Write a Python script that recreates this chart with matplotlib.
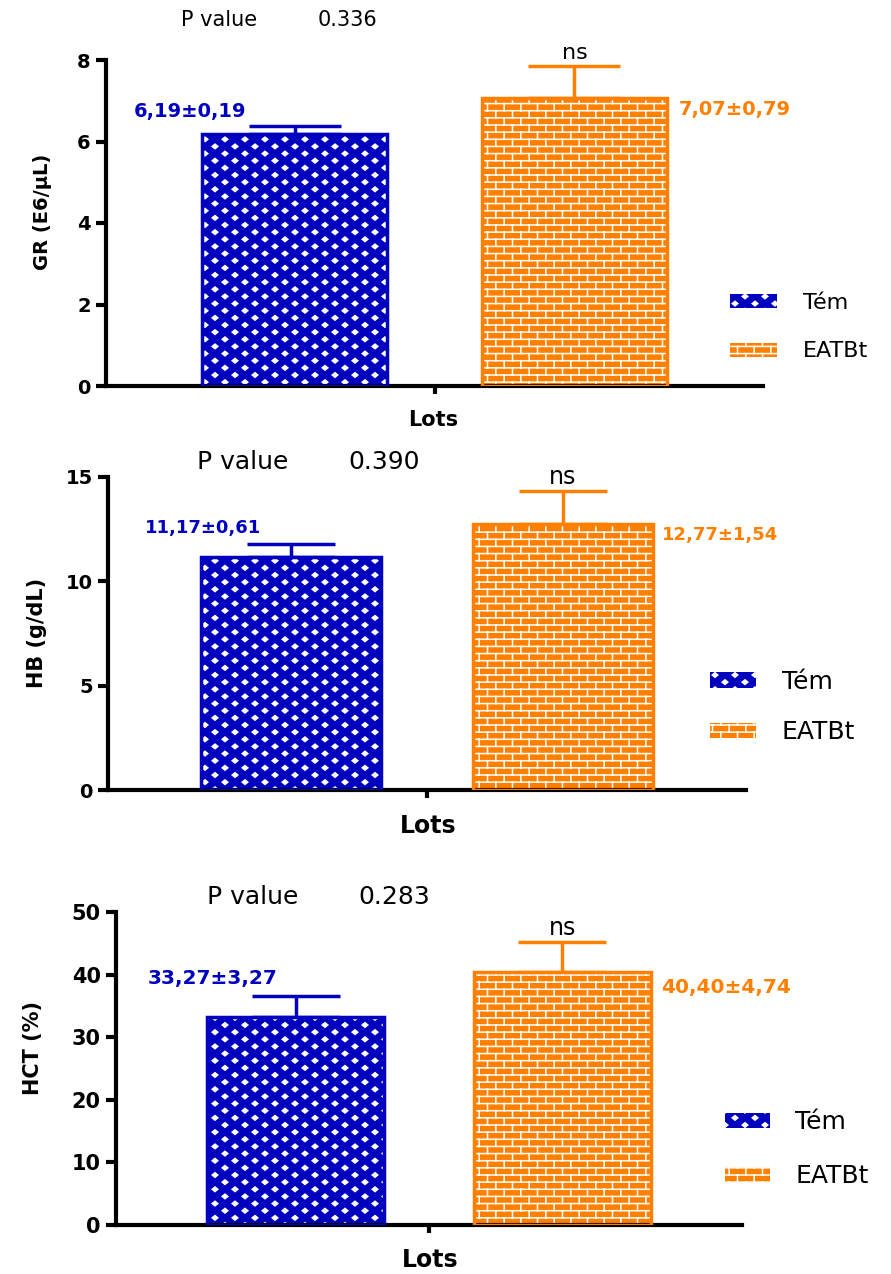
import warnings
import numpy as np
import matplotlib
matplotlib.use("Agg")
import matplotlib.pyplot as plt
from matplotlib import hatch as mhatch
from matplotlib.path import Path

warnings.filterwarnings("ignore", message=".*hatch must consist.*")

# ---- data ----
groups = ["Tém", "EATBt"]
gr_mean = [6.19, 7.07]
gr_sem = [0.19, 0.79]
hb_mean = [11.17, 12.77]
hb_sem = [0.61, 1.54]
hct_mean = [33.27, 40.40]
hct_sem = [3.27, 4.74]
p_values = [0.336, 0.390, 0.283]
y_labels = ["GR (E6/µL)", "HB (g/dL)", "HCT (%)"]
y_max = [8, 15, 50]
y_step = [2, 5, 10]
x_label = "Lots"
sig_label = "ns"

BLUE = "#0000BE"
ORANGE = "#FF8000"
COLORS = [BLUE, ORANGE]
HATCHES = ["d", "b"]

W, H = 891, 1274
BAR_W = 0.664
XLIM = (-0.674, 1.674)


class DiamondHatch(mhatch.HatchPatternBase):
    """staggered filled diamonds (GraphPad style)"""
    nx, ny = 5, 14
    hw, hh = 0.028, 0.023

    def __init__(self, hatch, density):
        self.num_vertices = 5 * self.nx * self.ny if "d" in hatch else 0

    def set_vertices_and_codes(self, vertices, codes):
        shape = np.array([[0, -self.hh], [self.hw, 0], [0, self.hh],
                          [-self.hw, 0], [0, -self.hh]])
        parts = []
        for r in range(self.ny):
            y = (r + 0.5) / self.ny
            for c in range(self.nx):
                x = (c + 0.25 + 0.5 * (r % 2)) / self.nx
                parts.append(shape + [x, y])
        vertices[:] = np.concatenate(parts)
        one = [Path.MOVETO, Path.LINETO, Path.LINETO, Path.LINETO, Path.CLOSEPOLY]
        codes[:] = np.tile(one, self.nx * self.ny)


class BrickHatch(mhatch.HatchPatternBase):
    """running-bond brick lines"""
    nx, ny = 6, 14

    def __init__(self, hatch, density):
        self.segs = self._segments() if "b" in hatch else []
        self.num_vertices = 2 * len(self.segs)

    def _segments(self):
        ys = (np.arange(self.ny) + 0.5) / self.ny
        segs = [((0.0, y), (1.0, y)) for y in ys]
        bands = [(ys[r], ys[r + 1], r) for r in range(self.ny - 1)]
        bands += [(ys[-1], 1.0, self.ny - 1), (0.0, ys[0], self.ny - 1)]
        for y0, y1, r in bands:
            for c in range(self.nx):
                x = (c + 0.25 + 0.5 * (r % 2)) / self.nx
                segs.append(((x, y0), (x, y1)))
        return segs

    def set_vertices_and_codes(self, vertices, codes):
        vertices[:] = np.array(self.segs, dtype=float).reshape(-1, 2)
        codes[0::2] = Path.MOVETO
        codes[1::2] = Path.LINETO


mhatch._hatch_types.extend([DiamondHatch, BrickHatch])

plt.rcParams["font.family"] = ["DejaVu Sans"]
plt.rcParams["hatch.linewidth"] = 1.1


def fx(x):
    return x / W


def fy(y):
    return 1 - y / H


# pixel layout of each panel (left, right, top, bottom of the axis lines)
LAYOUT = [
    dict(box=(106, 763, 60, 386), pval=(181, 318, 20, 15), tick=14, ylab=(43, 212, 14),
         xlab=(433, 420, 15), val=(14, (-48, 15), (11, -12)), ns=16,
         leg=(730, 327, 16, 47, 13, 1.17, 1.3), cap=33),
    dict(box=(108, 746, 477, 790), pval=(197, 348, 462, 18), tick=14, ylab=(37, 633, 15),
         xlab=(428, 826, 17), val=(13, (-30, 16), (9, -11)), ns=17,
         leg=(710, 707, 18, 46, 14, 1.04, 1.05), cap=32),
    dict(box=(116, 742, 912, 1225), pval=(207, 358, 897, 18), tick=15, ylab=(33, 1048, 15),
         xlab=(430, 1260, 17), val=(14.5, (-18, 18), (10, -15)), ns=17,
         leg=(725, 1149, 18, 45, 14, 1.0, 1.2), cap=32),
]

means_all = [gr_mean, hb_mean, hct_mean]
sems_all = [gr_sem, hb_sem, hct_sem]

fig = plt.figure(figsize=(W / 100, H / 100), dpi=100)

for i, lay in enumerate(LAYOUT):
    means, sems = means_all[i], sems_all[i]
    l, r, t, b = lay["box"]
    ax = fig.add_axes([fx(l), fy(b), (r - l) / W, (b - t) / H])
    x = np.arange(len(groups))

    fills = ax.bar(x, means, width=BAR_W, color=COLORS, edgecolor="white",
                   linewidth=0, zorder=2)
    for patch, h in zip(fills, HATCHES):
        patch.set_hatch(h)
    ax.bar(x, means, width=BAR_W, fill=False, edgecolor=COLORS, linewidth=2.5, zorder=3)
    for xi, m, s, c in zip(x, means, sems, COLORS):
        ax.errorbar(xi, m, yerr=[[0], [s]], color=c, elinewidth=2.5,
                    capsize=lay["cap"], capthick=2.5, zorder=1)

    ax.set_xlim(*XLIM)
    ax.set_ylim(0, y_max[i])
    ax.set_yticks(np.arange(0, y_max[i] + y_step[i], y_step[i]))
    ax.set_xticks([0.5])
    ax.set_xticklabels([""])
    for side in ["top", "right"]:
        ax.spines[side].set_visible(False)
    for side in ["left", "bottom"]:
        ax.spines[side].set_linewidth(3)
    ax.tick_params(axis="y", length=7, width=3, pad=4, labelsize=lay["tick"])
    ax.tick_params(axis="x", length=6, width=3)
    for lab in ax.get_yticklabels():
        lab.set_fontweight("bold")

    ax.set_ylabel(y_labels[i], fontsize=lay["ylab"][2], fontweight="bold", va="center")
    ax.yaxis.set_label_coords(fx(lay["ylab"][0]), fy(lay["ylab"][1]), transform=fig.transFigure)
    ax.set_xlabel(x_label, fontsize=lay["xlab"][2], fontweight="bold", va="center")
    ax.xaxis.set_label_coords(fx(lay["xlab"][0]), fy(lay["xlab"][1]), transform=fig.transFigure)

    # mean ± sem labels
    vfs, (bdx, bdy), (odx, ody) = lay["val"]
    txt = [f"{m:.2f}±{s:.2f}".replace(".", ",") for m, s in zip(means, sems)]
    ax.annotate(txt[0], xy=(x[0], means[0] + sems[0]), xytext=(bdx, bdy),
                textcoords="offset pixels", ha="right", va="center",
                color=BLUE, fontsize=vfs, fontweight="bold")
    ax.annotate(txt[1], xy=(x[1] + BAR_W / 2, means[1]), xytext=(odx, ody),
                textcoords="offset pixels", ha="left", va="center",
                color=ORANGE, fontsize=vfs, fontweight="bold")

    # significance
    ax.annotate(sig_label, xy=(x[1], means[1] + sems[1]), xytext=(0, 7),
                textcoords="offset pixels", ha="center", va="baseline",
                fontsize=lay["ns"])

    # p value
    px1, px2, pyy, pfs = lay["pval"]
    fig.text(fx(px1), fy(pyy), "P value", fontsize=pfs, va="center")
    fig.text(fx(px2), fy(pyy), f"{p_values[i]:.3f}", fontsize=pfs, va="center")

    lx, ly, lfs, hw, hh, pad, spc = lay["leg"]
    fs_px = lfs * 100 / 72
    ax.legend(fills, groups, loc="center left", bbox_to_anchor=(fx(lx), fy(ly)),
              bbox_transform=fig.transFigure, frameon=False, fontsize=lfs,
              borderpad=0, borderaxespad=0, handlelength=hw / fs_px,
              handleheight=hh / fs_px, handletextpad=pad, labelspacing=spc)

fig.savefig("out.png", dpi=100)
